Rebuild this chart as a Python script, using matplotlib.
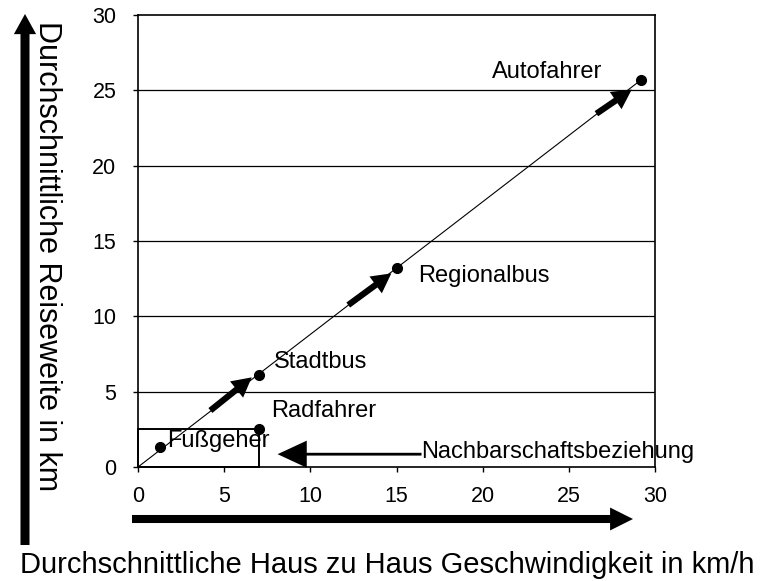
import matplotlib
matplotlib.use('Agg')
import matplotlib.pyplot as plt
from matplotlib.patches import Rectangle

plt.rcParams['font.family'] = ['Liberation Sans', 'DejaVu Sans']

# modes of transport: speed (km/h) and travel distance (km)
modes = ['Fußgeher', 'Radfahrer', 'Stadtbus', 'Regionalbus', 'Autofahrer']
speed = [1.3, 7.0, 7.0, 15.0, 29.2]
distance = [1.3, 2.5, 6.1, 13.2, 25.7]

# label anchors (left edge, vertical centre) in data units
label_x = [1.7, 7.7, 7.9, 16.25, 20.55]
label_y = [1.7, 3.7, 7.0, 12.7, 26.2]

# thick arrows along the diagonal: tail and tip
arrow_tail_x = [4.2, 12.2, 26.6]
arrow_tail_y = [3.75, 10.75, 23.45]
arrow_tip_x = [6.6, 14.7, 28.65]
arrow_tip_y = [5.95, 12.85, 25.05]

# neighbourhood box and its pointer
box_w, box_h = 7.0, 2.5
nb_text = 'Nachbarschaftsbeziehung'
nb_tail = (16.45, 0.85)
nb_tip = (8.1, 0.85)

xticks = [0, 5, 10, 15, 20, 25, 30]
yticks = [0, 5, 10, 15, 20, 25, 30]

W, H = 760, 581
fig = plt.figure(figsize=(W / 100, H / 100), dpi=100)
ax = fig.add_axes([138 / W, 1 - 467 / H, 517 / W, 452 / H])

ax.set_xlim(0, 30)
ax.set_ylim(0, 30)
ax.set_xticks(xticks)
ax.set_yticks(yticks)
ax.tick_params(labelsize=15.5, length=3.5, width=1, direction='out',
               colors='black')
ax.tick_params(axis='x', pad=10)
ax.tick_params(axis='y', pad=12)
for s in ax.spines.values():
    s.set_linewidth(1.2)
    s.set_color('black')

# horizontal grid
for g in yticks[1:-1]:
    ax.axhline(g, color='black', lw=0.9, zorder=1)

# diagonal from origin to the car point
ax.plot([0, speed[-1]], [0, distance[-1]], color='black', lw=0.8, zorder=2)

# neighbourhood box
ax.add_patch(Rectangle((0, 0), box_w, box_h, fill=False, ec='black',
                       lw=1.4, zorder=3, clip_on=False))

# points
ax.plot(speed, distance, 'o', color='black', ms=7, zorder=5, clip_on=False)

for name, lx, ly in zip(modes, label_x, label_y):
    ax.text(lx, ly, name, fontsize=17, ha='left', va='center', zorder=6)

# thick arrows along the diagonal
for tx, ty, hx, hy in zip(arrow_tail_x, arrow_tail_y, arrow_tip_x, arrow_tip_y):
    ax.annotate('', xy=(hx, hy), xytext=(tx, ty),
                arrowprops=dict(arrowstyle='simple,head_width=15,head_length=14,tail_width=4.5',
                                mutation_scale=1, fc='black', ec='black', lw=0,
                                shrinkA=0, shrinkB=0), zorder=4)

# neighbourhood pointer
ax.annotate('', xy=nb_tip, xytext=nb_tail,
            arrowprops=dict(arrowstyle='simple,head_width=19.5,head_length=21,tail_width=2',
                            mutation_scale=1, fc='black', ec='black', lw=0,
                            shrinkA=0, shrinkB=0), zorder=4)
ax.text(nb_tail[0], 1.0, nb_text, fontsize=17, ha='left', va='center', zorder=6)


# big axis arrows in figure space (pixel positions from top-left)
def fig_arrow(p0, p1, tail, hw, hl):
    ax.annotate('', xy=(p1[0] / W, 1 - p1[1] / H), xycoords='figure fraction',
                xytext=(p0[0] / W, 1 - p0[1] / H), textcoords='figure fraction',
                arrowprops=dict(arrowstyle='simple,head_width=%g,head_length=%g,tail_width=%g' % (hw, hl, tail),
                                mutation_scale=1, fc='black', ec='black', lw=0,
                                shrinkA=0, shrinkB=0))


fig_arrow((25, 545), (25, 14), 6.5, 16, 14.5)
fig_arrow((132, 519), (633, 519), 5.8, 16.5, 16.5)

fig.text(47 / W, 1 - 256 / H, 'Durchschnittliche Reiseweite in km', fontsize=22,
         rotation=270, ha='center', va='center')
fig.text(387 / W, 1 - 565 / H, 'Durchschnittliche Haus zu Haus Geschwindigkeit in km/h',
         fontsize=21, ha='center', va='center')

fig.savefig('out.png', dpi=100)
